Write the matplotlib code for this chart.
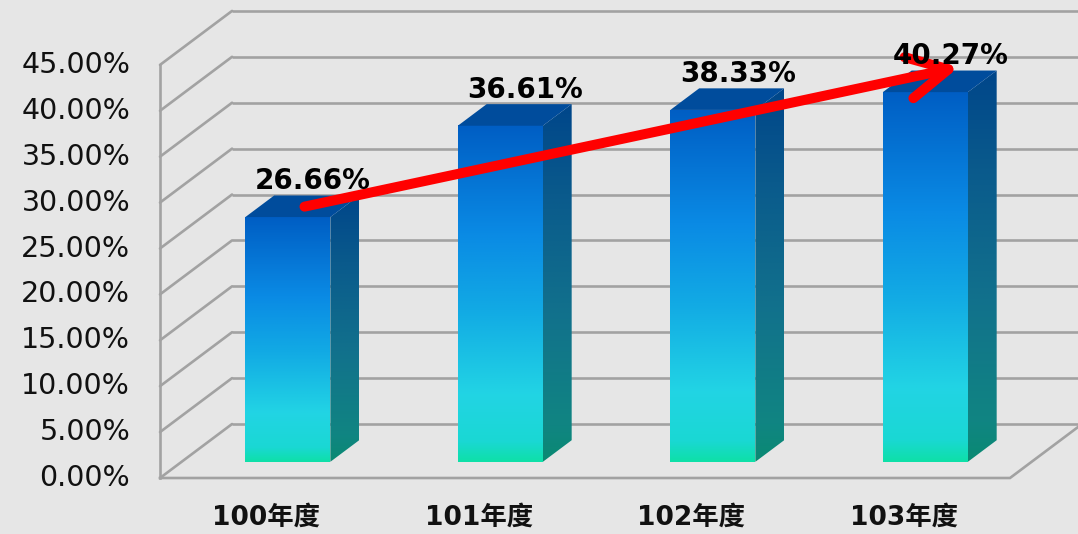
import matplotlib
matplotlib.use("Agg")
import matplotlib.pyplot as plt
import numpy as np
from matplotlib.colors import LinearSegmentedColormap
from matplotlib.patches import Polygon, FancyArrowPatch

# ----- datos -----
years = ["100年度", "101年度", "102年度", "103年度"]
rates = [26.66, 36.61, 38.33, 40.27]
y_ticks = [0, 5, 10, 15, 20, 25, 30, 35, 40, 45]
y_tick_labels = [f"{t:.2f}%" for t in y_ticks]

# ----- geometria de la caja 3D (unidades de datos) -----
DEPTH_X = 0.339      # desplazamiento horizontal hacia el fondo
DEPTH_Y = 5.88       # desplazamiento vertical hacia el fondo
BAR_W = 0.4
BAR_Z0, BAR_Z1 = 0.3, 0.7   # profundidad de las barras (fraccion)

BG = "#e6e6e6"
GRID = "#a2a2a2"

front_cmap = LinearSegmentedColormap.from_list("front", [
    (0.00, "#0ee0a8"), (0.06, "#1ad8d4"), (0.20, "#22d4e4"),
    (0.45, "#12aae4"), (0.68, "#0a8ae4"), (1.00, "#005ec4"),
])
side_cmap = LinearSegmentedColormap.from_list("side", [
    (0.00, "#0a8a72"), (0.10, "#108582"), (0.40, "#12728c"),
    (0.75, "#0a5a8c"), (1.00, "#00468a"),
])
TOP_COLOR = "#004c9c"

fig = plt.figure(figsize=(10.78, 5.34), dpi=100, facecolor=BG)
ax = fig.add_axes([0, 0, 1, 1])
ax.set_facecolor(BG)
ax.axis("off")

n = len(years)
x_left, x_right = -0.5, n - 0.5
top = y_ticks[-1]

# ----- paredes: rejilla del fondo y diagonales laterales -----
for t in y_ticks:
    ax.plot([x_left + DEPTH_X, x_right + DEPTH_X + 0.5], [t + DEPTH_Y] * 2,
            color=GRID, lw=1.9, zorder=1, solid_capstyle="butt")
    ax.plot([x_left, x_left + DEPTH_X], [t, t + DEPTH_Y],
            color=GRID, lw=1.9, zorder=1, solid_capstyle="round")
ax.plot([x_left, x_left], [0, top], color=GRID, lw=1.9, zorder=1)
ax.plot([x_left, x_right, x_right + DEPTH_X], [0, 0, DEPTH_Y],
        color=GRID, lw=1.9, zorder=1, solid_joinstyle="miter")

# ----- barras 3D -----
grad = np.linspace(0, 1, 256).reshape(-1, 1)
for i, v in enumerate(rates):
    fx0 = i - BAR_W / 2 + BAR_Z0 * DEPTH_X
    fx1 = fx0 + BAR_W
    fy0 = BAR_Z0 * DEPTH_Y
    fy1 = fy0 + v
    dx = (BAR_Z1 - BAR_Z0) * DEPTH_X
    dy = (BAR_Z1 - BAR_Z0) * DEPTH_Y

    ax.imshow(grad, cmap=front_cmap, origin="lower", aspect="auto",
              extent=(fx0, fx1, fy0, fy1), interpolation="bilinear", zorder=3)

    side = Polygon([(fx1, fy0), (fx1 + dx, fy0 + dy), (fx1 + dx, fy1 + dy), (fx1, fy1)],
                   closed=True, facecolor="none", edgecolor="none", zorder=3)
    ax.add_patch(side)
    im = ax.imshow(grad, cmap=side_cmap, origin="lower", aspect="auto",
                   extent=(fx1, fx1 + dx, fy0, fy1 + dy),
                   interpolation="bilinear", zorder=3)
    im.set_clip_path(side)

    ax.add_patch(Polygon([(fx0, fy1), (fx1, fy1), (fx1 + dx, fy1 + dy), (fx0 + dx, fy1 + dy)],
                         closed=True, facecolor=TOP_COLOR, edgecolor="none", zorder=3))

    ax.text(i + 0.22, v + BAR_Z1 * DEPTH_Y + 0.7, f"{v:.2f}%",
            ha="center", va="baseline", fontsize=20, fontweight="bold",
            color="black", zorder=6)

# ----- flecha de tendencia -----
arrow = FancyArrowPatch((0.18, rates[0] + 2.9), (3.26, rates[-1] + 4.5),
                        arrowstyle="->,head_length=1,head_width=0.52",
                        mutation_scale=29, lw=7.2, color="#ff0000",
                        shrinkA=0, shrinkB=0, capstyle="round", joinstyle="round",
                        zorder=5)
ax.add_patch(arrow)

# ----- etiquetas de ejes -----
for t, lab in zip(y_ticks, y_tick_labels):
    ax.text(x_left - 0.14, t, lab, ha="right", va="center",
            fontsize=20.5, color="#111111")

for i, lab in enumerate(years):
    ax.text(i, -4.3, lab, ha="center", va="center", fontsize=19,
            fontweight="bold", family=["DejaVu Sans", "Noto Sans CJK TC"],
            color="#111111")

ax.set_xlim(-0.5 - 160 / 212.5, -0.5 + 918 / 212.5)
ax.set_ylim(-56 / 9.18, 478 / 9.18)

fig.savefig("out.png", dpi=100, facecolor=BG)
